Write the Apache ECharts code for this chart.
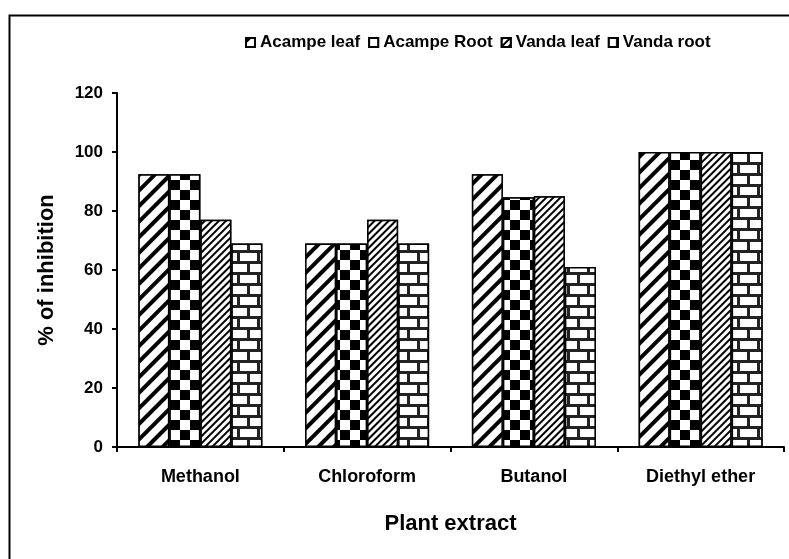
<!DOCTYPE html>
<html>
<head>
<meta charset="utf-8">
<script src="https://cdn.jsdelivr.net/npm/echarts@6/dist/echarts.min.js"></script>
<style>
  html, body { margin: 0; padding: 0; background: #fff; }
  #chart { width: 789px; height: 559px; }
</style>
</head>
<body>
<div id="chart"></div>
<script>
  // data
  const categories = ['Methanol', 'Chloroform', 'Butanol', 'Diethyl ether'];
  const seriesNames = ['Acampe leaf', 'Acampe Root', 'Vanda leaf', 'Vanda root'];
  const acampeLeaf = [92.5, 69, 92.5, 100];
  const acampeRoot = [92.5, 69, 84.7, 100];
  const vandaLeaf = [77, 77, 85, 100];
  const vandaRoot = [69, 69, 61, 100];
  const yTicks = [0, 20, 40, 60, 80, 100, 120];

  const values = [acampeLeaf, acampeRoot, vandaLeaf, vandaRoot];

  // fill patterns
  const decals = [
    { symbol: 'rect', symbolSize: 1, color: '#000', backgroundColor: '#fff',
      dashArrayX: [1, 0], dashArrayY: [3.2, 6.8], rotation: -Math.PI / 4 },
    { symbol: 'rect', symbolSize: 1, color: '#000', backgroundColor: '#fff',
      dashArrayX: [[10, 10], [0, 10, 10, 0]], dashArrayY: [10, 0], rotation: 0 },
    { symbol: 'rect', symbolSize: 1, color: '#000', backgroundColor: '#fff',
      dashArrayX: [1, 0], dashArrayY: [1.8, 2.4], rotation: -Math.PI / 4 },
    { symbol: 'rect', symbolSize: 1, color: '#fff', backgroundColor: '#222',
      dashArrayX: [[17, 3], [7, 3, 10, 0]], dashArrayY: [7.5, 2.5], rotation: 0 }
  ];

  const font = 'Liberation Sans';
  const chart = echarts.init(document.getElementById('chart'));

  let series = [];
  for (let i = 0; i < seriesNames.length; i++) {
    series.push({
      name: seriesNames[i],
      type: 'bar',
      data: values[i],
      barWidth: 31,
      barGap: '0%',
      itemStyle: {
        color: '#fff',
        borderColor: '#000',
        borderWidth: 1.5,
        decal: decals[i]
      }
    });
  }

  const option = {
    animation: false,
    backgroundColor: '#fff',
    graphic: [{
      type: 'rect',
      left: 7, top: 13,
      shape: { width: 820, height: 600 },
      style: { fill: 'none', stroke: '#000', lineWidth: 2 }
    }],
    legend: {
      data: seriesNames,
      left: 240,
      top: 29,
      itemWidth: 9,
      itemHeight: 9,
      itemGap: 8,
      icon: 'rect',
      textStyle: { fontFamily: font, fontWeight: 'bold', fontSize: 17, color: '#000' }
    },
    grid: {
      left: 117,
      right: 5,
      top: 93,
      bottom: 112
    },
    xAxis: {
      type: 'category',
      data: categories,
      name: 'Plant extract',
      nameLocation: 'middle',
      nameGap: 66,
      nameTextStyle: { fontFamily: font, fontWeight: 'bold', fontSize: 22, color: '#000' },
      axisLine: { lineStyle: { color: '#000', width: 2 } },
      axisTick: { show: true, length: 5, lineStyle: { color: '#000', width: 2 } },
      axisLabel: {
        margin: 21,
        fontFamily: font, fontWeight: 'bold', fontSize: 18, color: '#000'
      }
    },
    yAxis: {
      type: 'value',
      min: 0,
      max: 120,
      interval: 20,
      name: '% of inhibition',
      nameLocation: 'middle',
      nameGap: 59,
      nameTextStyle: { fontFamily: font, fontWeight: 'bold', fontSize: 22, color: '#000' },
      axisLine: { show: true, lineStyle: { color: '#000', width: 2 } },
      axisTick: { show: true, length: 5, lineStyle: { color: '#000', width: 2 } },
      splitLine: { show: false },
      axisLabel: {
        margin: 14,
        fontFamily: font, fontWeight: 'bold', fontSize: 17, color: '#000',
        formatter: function (v) { return yTicks.indexOf(v) >= 0 ? String(v) : ''; }
      }
    },
    series: series
  };
  chart.setOption(option);
  window.addEventListener('resize', function () {
    chart.resize();
  });
</script>
</body>
</html>
